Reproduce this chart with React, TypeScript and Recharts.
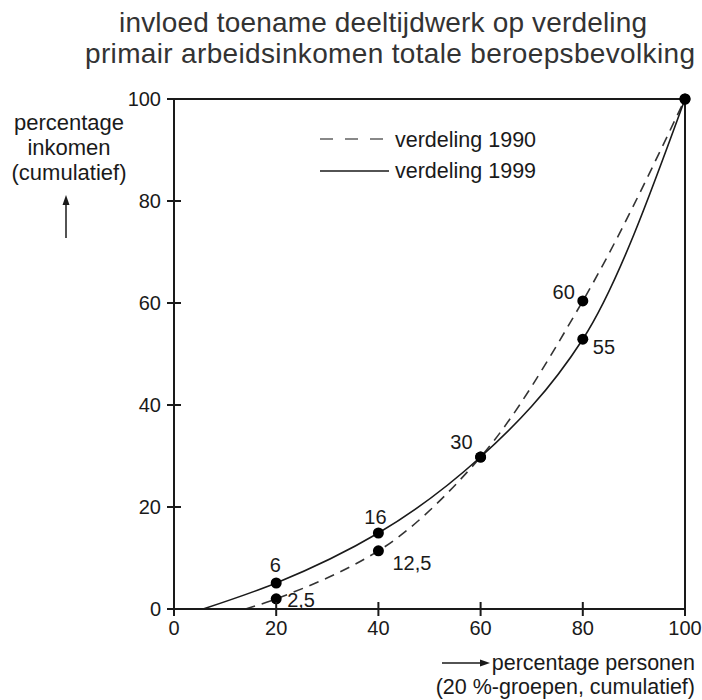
import React from "react";
import {
  ComposedChart,
  Line,
  Scatter,
  XAxis,
  YAxis,
  ReferenceLine,
  Customized,
} from "recharts";

// ---- data ----
const titleLines = [
  "invloed toename deeltijdwerk op verdeling",
  "primair arbeidsinkomen totale beroepsbevolking",
];
const yAxisLabel = ["percentage", "inkomen", "(cumulatief)"];
const xAxisLabel = ["percentage personen", "(20 %-groepen, cumulatief)"];
const seriesNames = ["verdeling 1990", "verdeling 1999"];

const xGroups = [20, 40, 60, 80, 100];
const values1990 = [2, 11.4, 29.8, 60.4, 100];
const values1999 = [5.1, 14.9, 29.8, 52.9, 100];
const labels1990 = ["2,5", "12,5", "", "60", ""];
const labels1999 = ["6", "16", "30", "55", ""];
const start1990 = 14; // x where 1990 curve leaves 0
const start1999 = 5.7; // x where 1999 curve leaves 0

const xTicks = [0, 20, 40, 60, 80, 100];
const yTicks = [0, 20, 40, 60, 80, 100];

// ---- derived tables ----
const line1990 = [{ x: start1990, y: 0 }, ...xGroups.map((x, i) => ({ x, y: values1990[i] }))];
const line1999 = [{ x: start1999, y: 0 }, ...xGroups.map((x, i) => ({ x, y: values1999[i] }))];
const pts1990 = xGroups.map((x, i) => ({ x, y: values1990[i], label: labels1990[i] }));
const pts1999 = xGroups.map((x, i) => ({ x, y: values1999[i], label: labels1999[i] }));

// ---- curve: shape-preserving cubic (Fritsch–Butland tangents) ----
function smoothCurve(context: any) {
  let xs: number[] = [];
  let ys: number[] = [];
  return {
    areaStart() {},
    areaEnd() {},
    lineStart() {
      xs = [];
      ys = [];
    },
    point(x: number, y: number) {
      xs.push(+x);
      ys.push(+y);
    },
    lineEnd() {
      const n = xs.length;
      if (!n) return;
      context.moveTo(xs[0], ys[0]);
      if (n === 1) return;
      if (n === 2) {
        context.lineTo(xs[1], ys[1]);
        return;
      }
      const h: number[] = [];
      const s: number[] = [];
      for (let i = 0; i < n - 1; i++) {
        h[i] = xs[i + 1] - xs[i];
        s[i] = (ys[i + 1] - ys[i]) / h[i];
      }
      const m: number[] = new Array(n).fill(0);
      for (let i = 1; i < n - 1; i++) {
        if (s[i - 1] * s[i] <= 0) m[i] = 0;
        else
          m[i] =
            (3 * (h[i - 1] + h[i])) /
            ((2 * h[i] + h[i - 1]) / s[i - 1] + (h[i] + 2 * h[i - 1]) / s[i]);
      }
      m[0] = (3 * s[0] - m[1]) / 2;
      m[n - 1] = (3 * s[n - 2] - m[n - 2]) / 2;
      for (let i = 0; i < n - 1; i++) {
        const d = h[i] / 3;
        context.bezierCurveTo(
          xs[i] + d,
          ys[i] + d * m[i],
          xs[i + 1] - d,
          ys[i + 1] - d * m[i + 1],
          xs[i + 1],
          ys[i + 1]
        );
      }
    },
  };
}

// ---- styles ----
const FONT = "'Liberation Sans', Arial, Helvetica, sans-serif";
const INK = "#1a1a1a";
const labelPlacement: Record<string, { dx: number; dy: number; anchor: "start" | "middle" | "end" }> = {
  "2,5": { dx: 11, dy: 8, anchor: "start" },
  "12,5": { dx: 14, dy: 19, anchor: "start" },
  "60": { dx: -8, dy: -2, anchor: "end" },
  "6": { dx: -1, dy: -11, anchor: "middle" },
  "16": { dx: -3, dy: -9, anchor: "middle" },
  "30": { dx: -8, dy: -8, anchor: "end" },
  "55": { dx: 10, dy: 15, anchor: "start" },
};

const YTick = (props: any) => {
  const { x, y, payload } = props;
  return (
    <g>
      <line x1={x - 7} x2={x + 7} y1={y} y2={y} stroke={INK} strokeWidth={2} />
      <text x={x - 13} y={y + 7} textAnchor="end" fontSize={20} fontFamily={FONT} fill={INK}>
        {payload.value}
      </text>
    </g>
  );
};

const XTick = (props: any) => {
  const { x, y, payload } = props;
  return (
    <g>
      <line x1={x} x2={x} y1={y - 7} y2={y + 7} stroke={INK} strokeWidth={2} />
      <text x={x} y={y + 26} textAnchor="middle" fontSize={20} fontFamily={FONT} fill={INK}>
        {payload.value}
      </text>
    </g>
  );
};

const Dot = (props: any) => {
  const { cx, cy, payload } = props;
  const lbl: string = payload?.label ?? "";
  const pl = labelPlacement[lbl];
  return (
    <g>
      <circle cx={cx} cy={cy} r={5.5} fill="#000" />
      {lbl && pl ? (
        <text
          x={cx + pl.dx}
          y={cy + pl.dy}
          textAnchor={pl.anchor}
          fontSize={20}
          fontFamily={FONT}
          fill={INK}
        >
          {lbl}
        </text>
      ) : null}
    </g>
  );
};

const Overlay = () => (
  <g fontFamily={FONT} fill={INK}>
    {/* title */}
    <text x={119} y={32} fontSize={28} fill="#333" textLength={528} lengthAdjust="spacing">
      {titleLines[0]}
    </text>
    <text x={85} y={63} fontSize={28} fill="#333" textLength={610} lengthAdjust="spacing">
      {titleLines[1]}
    </text>
    {/* y label */}
    {yAxisLabel.map((t, i) => (
      <text key={t} x={69} y={130 + i * 25} fontSize={22} textAnchor="middle">
        {t}
      </text>
    ))}
    <line x1={66} x2={66} y1={238} y2={203} stroke={INK} strokeWidth={1.5} />
    <polygon points="66,195 62.5,205 69.5,205" fill={INK} />
    {/* x label */}
    <text x={695} y={670} fontSize={21.5} textAnchor="end">
      {xAxisLabel[0]}
    </text>
    <text x={695} y={694} fontSize={21.5} textAnchor="end">
      {xAxisLabel[1]}
    </text>
    <line x1={442} x2={482} y1={663} y2={663} stroke={INK} strokeWidth={1.5} />
    <polygon points="490,663 480,659.5 480,666.5" fill={INK} />
    {/* legend */}
    <line x1={320} x2={385} y1={139} y2={139} stroke="#888" strokeWidth={2} strokeDasharray="13 12" />
    <text x={395} y={147} fontSize={21.5}>
      {seriesNames[0]}
    </text>
    <line x1={320} x2={389} y1={171} y2={171} stroke={INK} strokeWidth={1.5} />
    <text x={395} y={178} fontSize={21.5}>
      {seriesNames[1]}
    </text>
  </g>
);

export default function App() {
  return (
    <div style={{ position: "absolute", left: 0, top: 0, width: 702, height: 700, background: "#fff" }}>
      <ComposedChart width={702} height={700} margin={{ top: 99, right: 17, bottom: 61, left: 124 }}>
        <XAxis
          type="number"
          dataKey="x"
          domain={[0, 100]}
          ticks={xTicks}
          interval={0}
          tickSize={0}
          tickMargin={0}
          height={30}
          axisLine={{ stroke: INK, strokeWidth: 2 }}
          tickLine={false}
          tick={<XTick />}
        />
        <YAxis
          type="number"
          dataKey="y"
          domain={[0, 100]}
          ticks={yTicks}
          interval={0}
          tickSize={0}
          tickMargin={0}
          width={50}
          axisLine={{ stroke: INK, strokeWidth: 2 }}
          tickLine={false}
          tick={<YTick />}
        />
        <ReferenceLine y={100} stroke={INK} strokeWidth={2} />
        <ReferenceLine x={100} stroke={INK} strokeWidth={2} />
        <Line
          data={line1990}
          dataKey="y"
          type={smoothCurve as any}
          stroke="#333"
          strokeWidth={1.6}
          strokeDasharray="10 7"
          dot={false}
          activeDot={false}
          isAnimationActive={false}
        />
        <Line
          data={line1999}
          dataKey="y"
          type={smoothCurve as any}
          stroke={INK}
          strokeWidth={1.6}
          dot={false}
          activeDot={false}
          isAnimationActive={false}
        />
        <Scatter data={pts1990} dataKey="y" shape={<Dot />} isAnimationActive={false} />
        <Scatter data={pts1999} dataKey="y" shape={<Dot />} isAnimationActive={false} />
        <Customized component={Overlay} />
      </ComposedChart>
    </div>
  );
}
